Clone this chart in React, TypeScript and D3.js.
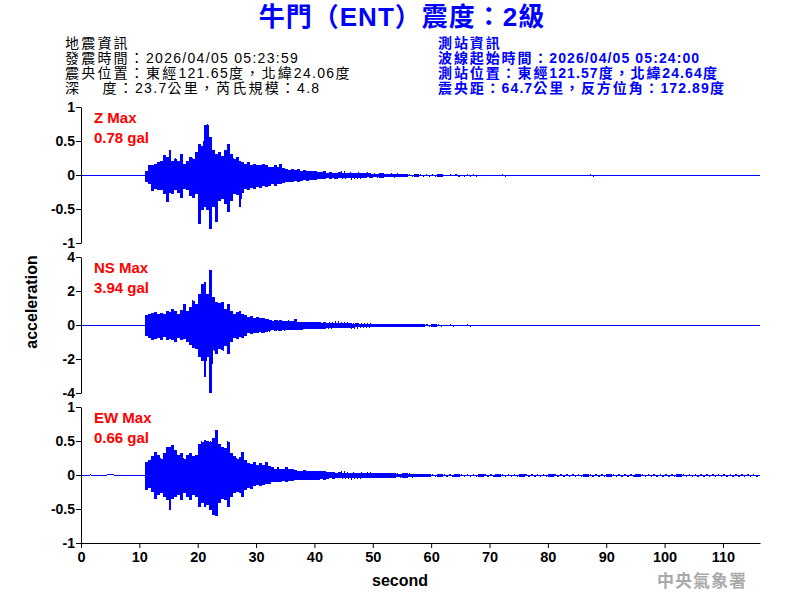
import React, { useEffect, useRef } from "react";
import * as d3 from "d3";

// ---------- text ----------
const TITLE = "牛門（ENT）震度：2級";
const EQ_INFO = [
  "地震資訊",
  "發震時間：2026/04/05 05:23:59",
  "震央位置：東經121.65度，北緯24.06度",
  "深　 度：23.7公里，芮氏規模：4.8",
];
const ST_INFO = [
  "測站資訊",
  "波線起始時間：2026/04/05 05:24:00",
  "測站位置：東經121.57度，北緯24.64度",
  "震央距：64.7公里，反方位角：172.89度",
];
const COMPONENTS = ["Z", "NS", "EW"];
const PGA = ["0.78", "3.94", "0.66"];
const Y_TICKS = [
  [-1, -0.5, 0, 0.5, 1],
  [-4, -2, 0, 2, 4],
  [-1, -0.5, 0, 0.5, 1],
];
const Y_LIMITS = [1, 4, 1];
const X_TICKS = [0, 10, 20, 30, 40, 50, 60, 70, 80, 90, 100, 110];
const X_END = 116.35;
const WATERMARK = "中央氣象署";

// ---------- waveform envelopes (gal) ----------
// strong-motion part: 0.5 s bins starting at 11.0 s (max / min in each bin)
const BIN_START = 11.0;
const BIN_STEP = 0.5;
const Z_MAX = [
  0.07, 0.15, 0.16, 0.17, 0.2, 0.22, 0.3, 0.27, 0.37, 0.22,
  0.25, 0.22, 0.32, 0.17, 0.22, 0.27, 0.25, 0.34, 0.47, 0.44,
  0.74, 0.75, 0.56, 0.37, 0.32, 0.34, 0.29, 0.37, 0.47, 0.32,
  0.25, 0.27, 0.22, 0.2, 0.17, 0.2, 0.16, 0.17, 0.15, 0.16,
  0.17, 0.15, 0.13, 0.12, 0.15, 0.12, 0.17, 0.11, 0.1, 0.08,
  0.1, 0.08, 0.09, 0.07, 0.08, 0.07, 0.06, 0.07, 0.06, 0.05,
  0.05, 0.07, 0.04, 0.05, 0.04, 0.04, 0.05, 0.04, 0.04, 0.03,
  0.04, 0.03, 0.03, 0.04, 0.03, 0.03, 0.03, 0.025,
];
const Z_MIN = [
  -0.1, -0.13, -0.23, -0.2, -0.22, -0.21, -0.27, -0.39, -0.25, -0.27,
  -0.22, -0.25, -0.33, -0.2, -0.22, -0.3, -0.33, -0.27, -0.71, -0.51,
  -0.47, -0.51, -0.78, -0.47, -0.68, -0.37, -0.34, -0.42, -0.54, -0.37,
  -0.27, -0.29, -0.47, -0.25, -0.2, -0.22, -0.18, -0.2, -0.17, -0.18,
  -0.16, -0.17, -0.15, -0.13, -0.15, -0.12, -0.13, -0.11, -0.1, -0.09,
  -0.1, -0.08, -0.09, -0.08, -0.07, -0.08, -0.07, -0.06, -0.06, -0.05,
  -0.05, -0.05, -0.04, -0.05, -0.04, -0.05, -0.04, -0.04, -0.04, -0.03,
  -0.04, -0.03, -0.03, -0.03, -0.03, -0.03, -0.025, -0.03,
];
const NS_MAX = [
  0.59, 0.69, 0.73, 0.78, 0.69, 0.75, 0.69, 0.88, 0.78, 0.98,
  0.84, 0.69, 0.92, 1.27, 0.88, 1.08, 1.47, 1.27, 1.86, 2.45,
  2.55, 1.86, 3.27, 1.67, 1.37, 1.31, 1.37, 0.98, 1.27, 0.88,
  0.69, 0.78, 0.88, 0.69, 0.59, 0.49, 0.53, 0.45, 0.49, 0.43,
  0.45, 0.39, 0.35, 0.29, 0.33, 0.29, 0.31, 0.27, 0.25, 0.29,
  0.25, 0.39, 0.22, 0.22, 0.21, 0.2, 0.2, 0.19, 0.2, 0.18,
  0.17, 0.2, 0.16, 0.15, 0.14, 0.15, 0.14, 0.13, 0.12, 0.13,
  0.12, 0.11, 0.12, 0.1, 0.11, 0.1, 0.1, 0.09,
];
const NS_MIN = [
  -0.59, -0.73, -0.84, -0.78, -0.73, -0.84, -0.69, -0.88, -0.78, -0.84,
  -0.98, -0.73, -0.84, -0.78, -0.98, -1.12, -1.31, -1.37, -1.86, -2.06,
  -3.0, -1.86, -3.98, -1.47, -1.67, -1.37, -1.47, -1.18, -1.67, -0.98,
  -0.73, -0.78, -0.65, -0.73, -0.59, -0.45, -0.49, -0.43, -0.45, -0.41,
  -0.45, -0.39, -0.35, -0.29, -0.33, -0.29, -0.31, -0.29, -0.25, -0.27,
  -0.25, -0.27, -0.24, -0.24, -0.22, -0.21, -0.2, -0.2, -0.19, -0.2,
  -0.18, -0.19, -0.16, -0.15, -0.14, -0.15, -0.14, -0.13, -0.13, -0.12,
  -0.12, -0.12, -0.11, -0.11, -0.1, -0.1, -0.1, -0.09,
];
const EW_MAX = [
  0.2, 0.23, 0.28, 0.35, 0.3, 0.25, 0.33, 0.42, 0.42, 0.45,
  0.38, 0.3, 0.33, 0.25, 0.3, 0.33, 0.28, 0.3, 0.47, 0.5,
  0.52, 0.51, 0.5, 0.55, 0.67, 0.47, 0.42, 0.4, 0.5, 0.33,
  0.28, 0.25, 0.27, 0.35, 0.23, 0.18, 0.17, 0.2, 0.15, 0.18,
  0.15, 0.2, 0.14, 0.13, 0.1, 0.13, 0.1, 0.1, 0.13, 0.1,
  0.09, 0.08, 0.07, 0.07, 0.08, 0.07, 0.07, 0.06, 0.07, 0.07,
  0.06, 0.07, 0.05, 0.05, 0.05, 0.04, 0.05, 0.04, 0.04, 0.04,
  0.03, 0.04, 0.03, 0.03, 0.04, 0.03, 0.03, 0.03,
];
const EW_MIN = [
  -0.21, -0.19, -0.24, -0.35, -0.29, -0.26, -0.31, -0.36, -0.51, -0.34,
  -0.31, -0.29, -0.36, -0.26, -0.31, -0.36, -0.29, -0.31, -0.47, -0.41,
  -0.46, -0.43, -0.51, -0.58, -0.6, -0.41, -0.34, -0.36, -0.46, -0.31,
  -0.26, -0.24, -0.26, -0.31, -0.21, -0.19, -0.2, -0.15, -0.14, -0.16,
  -0.14, -0.12, -0.13, -0.1, -0.09, -0.1, -0.09, -0.08, -0.09, -0.08,
  -0.08, -0.07, -0.07, -0.07, -0.06, -0.07, -0.07, -0.06, -0.06, -0.06,
  -0.05, -0.06, -0.05, -0.04, -0.05, -0.04, -0.04, -0.04, -0.04, -0.03,
  -0.04, -0.03, -0.03, -0.03, -0.03, -0.03, -0.03, -0.03,
];
// coda: 1 s bins starting at 50 s, half-amplitude of the trace
const TAIL_START = 50;
const TAIL_STEP = 1;
const Z_TAIL = [
  0.025, 0.03, 0.02, 0.025, 0.02, 0.015, 0.01, 0.015, 0.01, 0.012,
  0.01, 0.015, 0.008, 0.01, 0.012, 0.008, 0.01, 0.008, 0.006, 0.008,
  0.005, 0.006, 0.008, 0.005, 0.006, 0.005, 0.004, 0.005, 0.004, 0.003,
  0.003, 0.004, 0.003, 0.003, 0.003, 0.003, 0.004, 0.01, 0.003, 0.003,
  0.003, 0.002, 0.003, 0.003, 0.002, 0.003, 0.003, 0.002, 0.003, 0.002,
  0.003, 0.002, 0.003, 0.003, 0.002, 0.003, 0.002, 0.003, 0.002, 0.003,
  0.002, 0.003, 0.002, 0.003, 0.002, 0.002,
];
const NS_TAIL = [
  0.09, 0.08, 0.08, 0.07, 0.08, 0.06, 0.07, 0.06, 0.07, 0.05,
  0.06, 0.04, 0.03, 0.04, 0.03, 0.03, 0.04, 0.02, 0.03, 0.03,
  0.02, 0.03, 0.02, 0.02, 0.03, 0.015, 0.01, 0.015, 0.01, 0.01,
  0.012, 0.01, 0.01, 0.008, 0.01, 0.008, 0.01, 0.008, 0.008, 0.01,
  0.008, 0.008, 0.006, 0.008, 0.008, 0.006, 0.008, 0.006, 0.006, 0.008,
  0.006, 0.006, 0.005, 0.006, 0.006, 0.005, 0.006, 0.005, 0.005, 0.006,
  0.005, 0.005, 0.004, 0.005, 0.005, 0.004,
];
const EW_TAIL = [
  0.03, 0.03, 0.035, 0.03, 0.025, 0.03, 0.025, 0.02, 0.02, 0.015,
  0.012, 0.015, 0.012, 0.013, 0.015, 0.012, 0.014, 0.012, 0.015, 0.013,
  0.012, 0.015, 0.012, 0.013, 0.012, 0.015, 0.012, 0.014, 0.012, 0.013,
  0.015, 0.012, 0.013, 0.012, 0.014, 0.012, 0.015, 0.012, 0.013, 0.012,
  0.015, 0.012, 0.014, 0.013, 0.012, 0.015, 0.012, 0.013, 0.014, 0.012,
  0.013, 0.012, 0.015, 0.012, 0.013, 0.012, 0.014, 0.012, 0.013, 0.012,
  0.014, 0.012, 0.013, 0.012, 0.013, 0.012,
];
// pre-event noise [t, value]
const Z_PRE: [number, number][] = [[0, 0], [11, 0]];
const NS_PRE: [number, number][] = [[0, 0], [11, 0]];
const EW_PRE: [number, number][] = [
  [0, 0], [1.4, 0], [1.6, 0.01], [1.9, 0], [4.4, 0.003], [4.6, 0.01], [5.6, 0.008],
  [5.9, -0.003], [7.2, -0.006], [7.5, 0], [8.6, -0.003], [9.5, 0.002], [10.5, -0.006], [11, 0],
];

const MAXES = [Z_MAX, NS_MAX, EW_MAX];
const MINS = [Z_MIN, NS_MIN, EW_MIN];
const TAILS = [Z_TAIL, NS_TAIL, EW_TAIL];
const PRES = [Z_PRE, NS_PRE, EW_PRE];

// ---------- layout ----------
const FONT = "'Liberation Sans', Arial, 'Noto Sans CJK TC', sans-serif";
const PLOT_LEFT = 81;
const PLOT_RIGHT = 760;
const PANEL_TOPS = [107, 257, 407];
const PANEL_H = 136;
const PX = 0.5; // half-pixel offset so the 1px trace sits on a pixel row, like d3's axis ticks

type Env = { t: number; hi: number; lo: number };

// envelope rows (step-shaped): strong-motion bins then coda bins
function buildEnvelope(i: number): Env[] {
  const rows: Env[] = [];
  MAXES[i].forEach((mx, k) => {
    rows.push({ t: BIN_START + k * BIN_STEP, hi: mx, lo: MINS[i][k] });
  });
  TAILS[i].forEach((a, k) => {
    rows.push({ t: TAIL_START + k * TAIL_STEP, hi: a, lo: -a });
  });
  rows.push({ t: X_END, hi: 0, lo: 0 });
  return rows;
}

// zig-zag trace through the same bins (thin spikes)
function buildTrace(i: number): [number, number][] {
  const pts: [number, number][] = [...PRES[i]];
  MAXES[i].forEach((mx, k) => {
    const t = BIN_START + k * BIN_STEP;
    pts.push([t + BIN_STEP * 0.25, mx]);
    pts.push([t + BIN_STEP * 0.75, MINS[i][k]]);
  });
  TAILS[i].forEach((a, k) => {
    const t = TAIL_START + k * TAIL_STEP;
    pts.push([t + TAIL_STEP * 0.25, a]);
    pts.push([t + TAIL_STEP * 0.75, -a]);
  });
  pts.push([X_END, 0]);
  return pts;
}

function addRuns(sel: any, str: string, latinSpacing: number, cjkSpacing: number) {
  const re = /([\u3000-\u9fff\uff00-\uffef]+)|([^\u3000-\u9fff\uff00-\uffef]+)/g;
  let m: RegExpExecArray | null;
  while ((m = re.exec(str))) {
    const ts = sel.append("tspan").text(m[0]);
    ts.attr("letter-spacing", m[2] ? latinSpacing : cjkSpacing);
  }
}

export default function App() {
  const ref = useRef<SVGSVGElement>(null);
  useEffect(() => {
    const svg = d3.select(ref.current);
    svg.selectAll("*").remove();
    svg.append("rect").attr("width", 800).attr("height", 600).attr("fill", "#fff");

    // title
    svg.append("text")
      .attr("x", 402).attr("y", 26)
      .attr("text-anchor", "middle")
      .attr("font-family", FONT).attr("font-size", 26).attr("font-weight", "bold")
      .attr("letter-spacing", 1)
      .attr("fill", "#0000ff")
      .text(TITLE);

    EQ_INFO.forEach((s, i) => {
      const t = svg.append("text")
        .attr("x", 65).attr("y", 48 + 15 * i)
        .attr("font-family", FONT).attr("font-size", 14)
        .attr("fill", "#000");
      addRuns(t, s, 1.3, 2.2);
    });
    ST_INFO.forEach((s, i) => {
      const t = svg.append("text")
        .attr("x", 438).attr("y", 48 + 15 * i)
        .attr("font-family", FONT).attr("font-size", 14).attr("font-weight", "bold")
        .attr("fill", "#0000ff");
      addRuns(t, s, 1.1, 1.9);
    });

    const x = d3.scaleLinear().domain([0, X_END]).range([PLOT_LEFT, PLOT_RIGHT]);

    COMPONENTS.forEach((c, i) => {
      const top = PANEL_TOPS[i];
      const lim = Y_LIMITS[i];
      const y = d3.scaleLinear().domain([-lim, lim]).range([top + PANEL_H, top]);

      const line = d3.line<[number, number]>().x((d) => x(d[0])).y((d) => y(d[1]) + PX);
      svg.append("path")
        .attr("d", line(buildTrace(i)) as string)
        .attr("fill", "none")
        .attr("stroke", "#0000ff")
        .attr("stroke-width", 1)
        .attr("shape-rendering", "crispEdges");

      const area = d3.area<Env>()
        .curve(d3.curveStepAfter)
        .x((d) => x(d.t)).y0((d) => y(d.lo) + PX).y1((d) => y(d.hi) + PX);
      svg.append("path")
        .attr("d", area(buildEnvelope(i)) as string)
        .attr("fill", "#0000ff")
        .attr("shape-rendering", "crispEdges");

      const ax = svg.append("g")
        .attr("transform", `translate(${PLOT_LEFT},0)`)
        .call(
          d3.axisLeft(y).tickValues(Y_TICKS[i]).tickSize(5).tickSizeOuter(0).tickPadding(1)
            .tickFormat((d: any) => String(d))
        );
      ax.selectAll("text")
        .attr("font-family", FONT).attr("font-size", 14).attr("font-weight", "bold").attr("fill", "#000");
      ax.selectAll("line,path").attr("stroke", "#000");

      svg.append("text")
        .attr("x", 94).attr("y", top + 15.5)
        .attr("font-family", FONT).attr("font-size", 15).attr("font-weight", "bold")
        .attr("fill", "#ff0000")
        .text(`${c} Max`);
      svg.append("text")
        .attr("x", 94).attr("y", top + 35.5)
        .attr("font-family", FONT).attr("font-size", 15).attr("font-weight", "bold")
        .attr("fill", "#ff0000")
        .text(`${PGA[i]} gal`);
    });

    const xa = svg.append("g")
      .attr("transform", `translate(0,${PANEL_TOPS[2] + PANEL_H})`)
      .call(
        d3.axisBottom(x).tickValues(X_TICKS).tickSize(5).tickSizeOuter(0).tickPadding(4)
          .tickFormat((d: any) => String(d))
      );
    xa.selectAll("text")
      .attr("font-family", FONT).attr("font-size", 14.5).attr("font-weight", "bold").attr("fill", "#000");
    xa.selectAll("line,path").attr("stroke", "#000");

    svg.append("text")
      .attr("x", 400).attr("y", 586)
      .attr("text-anchor", "middle")
      .attr("font-family", FONT).attr("font-size", 16).attr("font-weight", "bold")
      .text("second");
    svg.append("text")
      .attr("transform", "translate(37,302) rotate(-90)")
      .attr("text-anchor", "middle")
      .attr("font-family", FONT).attr("font-size", 16).attr("font-weight", "bold")
      .text("acceleration");

    svg.append("text")
      .attr("x", 657).attr("y", 587)
      .attr("font-family", "'Noto Sans CJK TC', sans-serif").attr("font-size", 17).attr("font-weight", "bold")
      .attr("letter-spacing", 1)
      .attr("fill", "#aaaaaa")
      .text(WATERMARK);
  }, []);

  return (
    <svg
      ref={ref}
      width={800}
      height={600}
      style={{ position: "absolute", left: 0, top: 0, background: "#fff" }}
    />
  );
}
